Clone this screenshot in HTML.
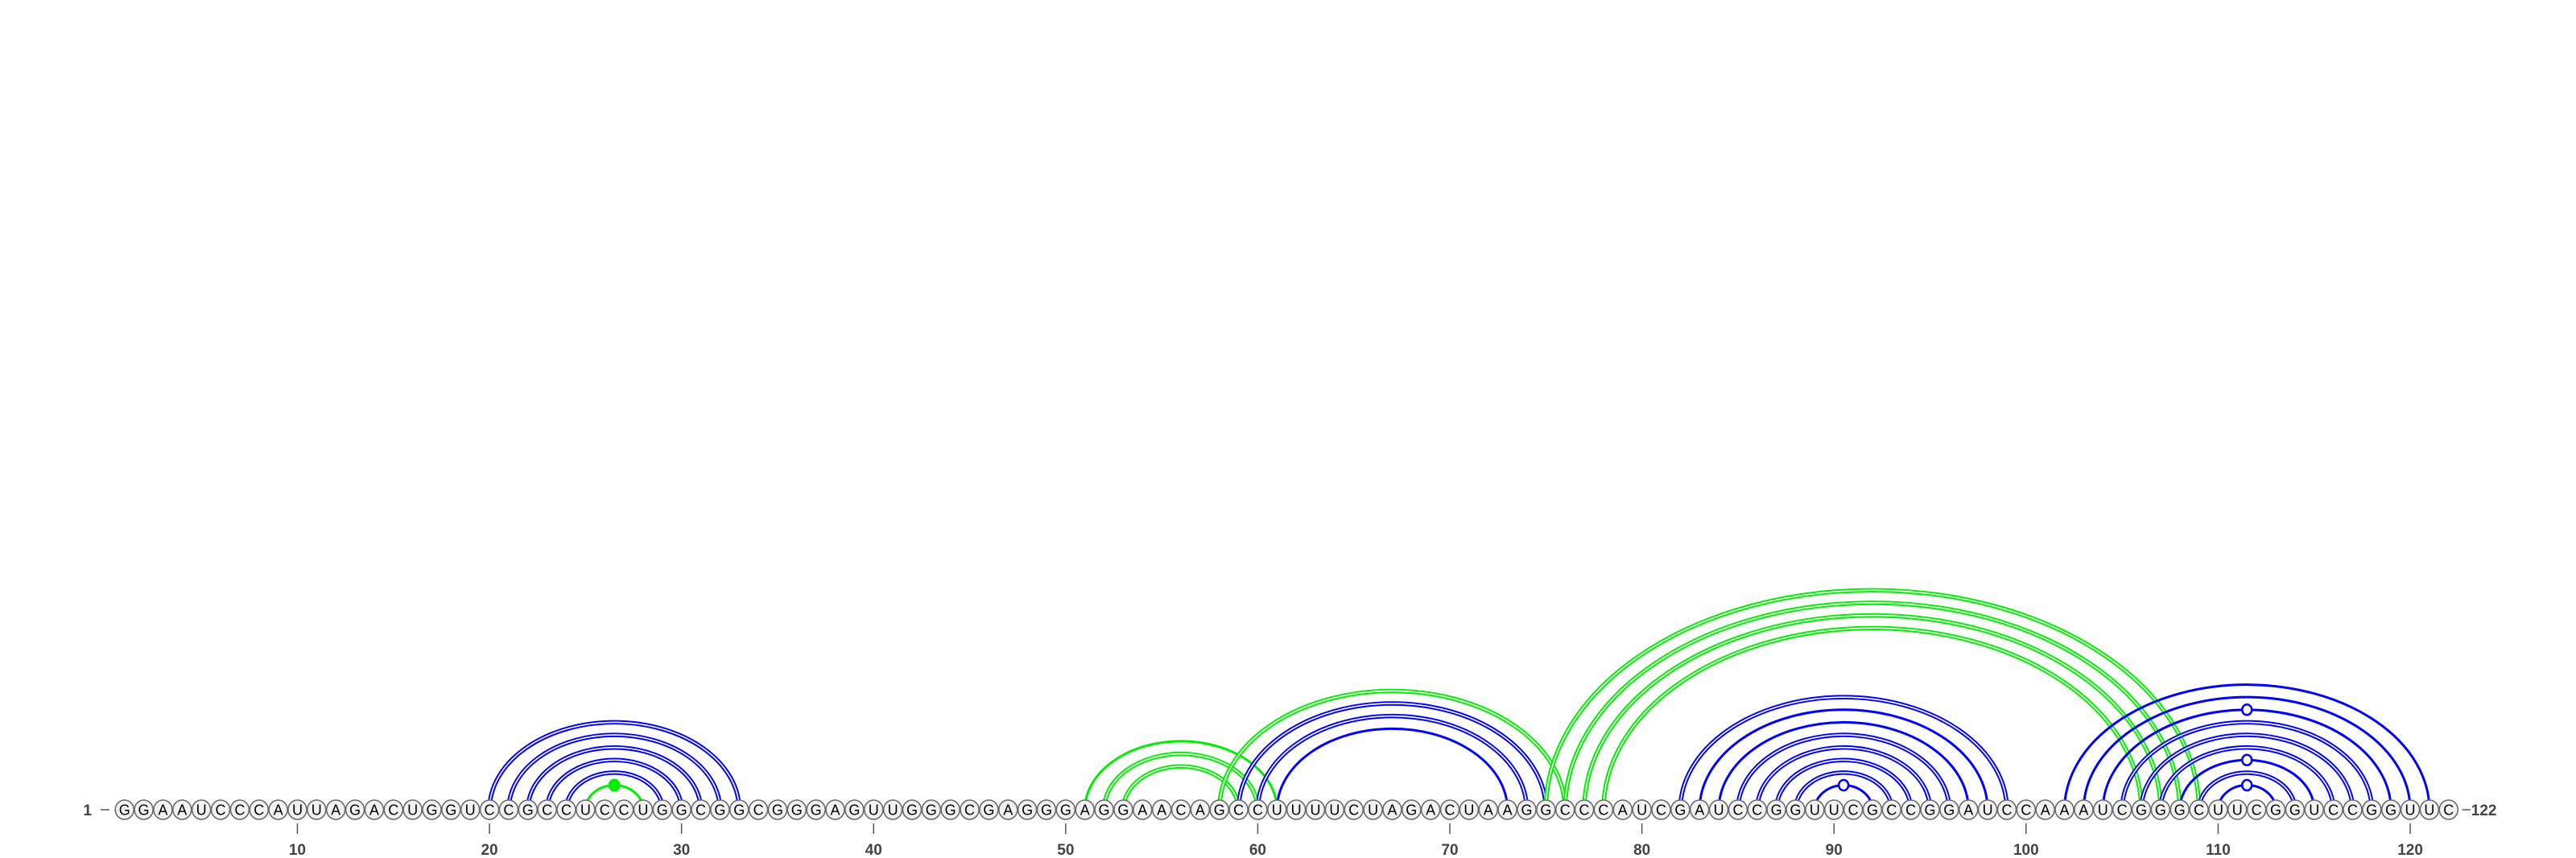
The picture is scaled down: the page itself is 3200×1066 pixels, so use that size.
<!DOCTYPE html>
<html><head><meta charset="utf-8"><style>
html,body{margin:0;padding:0;background:#fff;}
svg{display:block;}
text{font-family:"Liberation Sans",sans-serif;}
</style></head><body>
<svg id="chart" width="3200" height="1066" viewBox="0 0 3200 1066" xmlns="http://www.w3.org/2000/svg">
<g id="arcs"></g>
<g id="nodes"></g>
<g id="axis"></g>
</svg>
<script>
const sequence = "GGAAUCCCAUUAGACUGGUCCGCCUCCUGGCGGCGGGAGUUGGGCGAGGGAGGAACAGCCUUUUCUAGACUAAGGCCCAUCGAUCCGGUUCGCCGGAUCCAAAUCGGGCUUCGGUCCGGUUC";
const pairI = [20,21,22,23,24,25, 51,52,53,58,59,60,61, 75,76,77,78, 82,83,84,85,86,87,88,89, 102,103,104,105,106,107,108,109,110];
const pairJ = [33,32,31,30,29,28, 61,60,59,76,75,74,73, 109,108,107,106, 99,98,97,96,95,94,93,92, 121,120,119,118,117,116,115,114,113];
const pairColor = ["b","b","b","b","b","g", "g","g","g","g","b","b","b", "g","g","g","g", "b","b","b","b","b","b","b","b", "b","b","b","b","b","b","b","b","b"];
const tickPositions = [10,20,30,40,50,60,70,80,90,100,110,120];

const NS="http://www.w3.org/2000/svg";
const x0=154.7, step=23.86, cy=1006;
function xPos(i){return x0+(i-1)*step;}
function mk(tag,attrs,parent){const e=document.createElementNS(NS,tag);for(const k in attrs)e.setAttribute(k,attrs[k]);parent.appendChild(e);return e;}
function pairType(a,b){const p=a+b;
  if(p==="GC"||p==="CG")return "gc";
  if(p==="AU"||p==="UA")return "au";
  if(p==="GU"||p==="UG")return "gu";
  return "nc";}
const arcs=document.getElementById('arcs');
for(let k=0;k<pairI.length;k++){
  const i=pairI[k], j=pairJ[k];
  const xa=xPos(i), xb=xPos(j);
  const rx=(xb-xa)/2, ry=0.655*rx+7;
  const col=pairColor[k]==="g"?"#00ee00":"#0000ff";
  const d=`M${xa},${cy} A${rx},${ry} 0 0 1 ${xb},${cy}`;
  const t=pairType(sequence[i-1],sequence[j-1]);
  const g=mk('g',{},arcs);
  
  
  if(t==="gc"){
    mk('path',{d:d,fill:'none',stroke:col,'stroke-width':5.5},g);
    mk('path',{d:d,fill:'none',stroke:'#fff','stroke-width':1.6},g);
  } else {
    mk('path',{d:d,fill:'none',stroke:col,'stroke-width':3},g);
    const mx=(xa+xb)/2, my=cy-ry;
    if(t==="gu"){
      const c=mk('ellipse',{cx:mx,cy:my,rx:6,ry:6.5,fill:'#fff',stroke:col,'stroke-width':2.5},g);
      
      
    } else if(t==="nc"){
      const c=mk('ellipse',{cx:mx,cy:my,rx:7.5,ry:8,fill:col},g);
      
      
    }
  }
}
const nodes=document.getElementById('nodes');
for(let i=1;i<=sequence.length;i++){
  const g=mk('g',{},nodes);
  
  
  mk('ellipse',{cx:xPos(i),cy:cy,rx:11.5,ry:12,fill:'#f2f2f2',stroke:'#6a6a6a','stroke-width':1.6},g);
  const t=mk('text',{x:xPos(i),y:cy+6.5,'text-anchor':'middle','font-size':18,fill:'#000'},g);
  t.textContent=sequence[i-1];
}
const axis=document.getElementById('axis');
for(const p of tickPositions){
  const l=mk('line',{x1:xPos(p),x2:xPos(p),y1:1023,y2:1036,stroke:'#555','stroke-width':1.5},axis);
  
  
  const t=mk('text',{x:xPos(p),y:1062,'text-anchor':'middle','font-size':19,'font-weight':'bold',fill:'#444'},axis);
  
  
  t.textContent=p;
}
const s=mk('text',{x:114,y:1013,'text-anchor':'end','font-size':19,'font-weight':'bold',fill:'#444'},axis);


s.textContent="1";
const sd=mk('line',{x1:125,x2:136,y1:1006,y2:1006,stroke:'#555','stroke-width':1.5},axis);


const ed=mk('line',{x1:xPos(sequence.length)+17,x2:xPos(sequence.length)+27,y1:1006,y2:1006,stroke:'#555','stroke-width':1.5},axis);


const e=mk('text',{x:xPos(sequence.length)+28,y:1013,'text-anchor':'start','font-size':19,'font-weight':'bold',fill:'#444'},axis);


e.textContent=String(sequence.length);
</script>
</body></html>
